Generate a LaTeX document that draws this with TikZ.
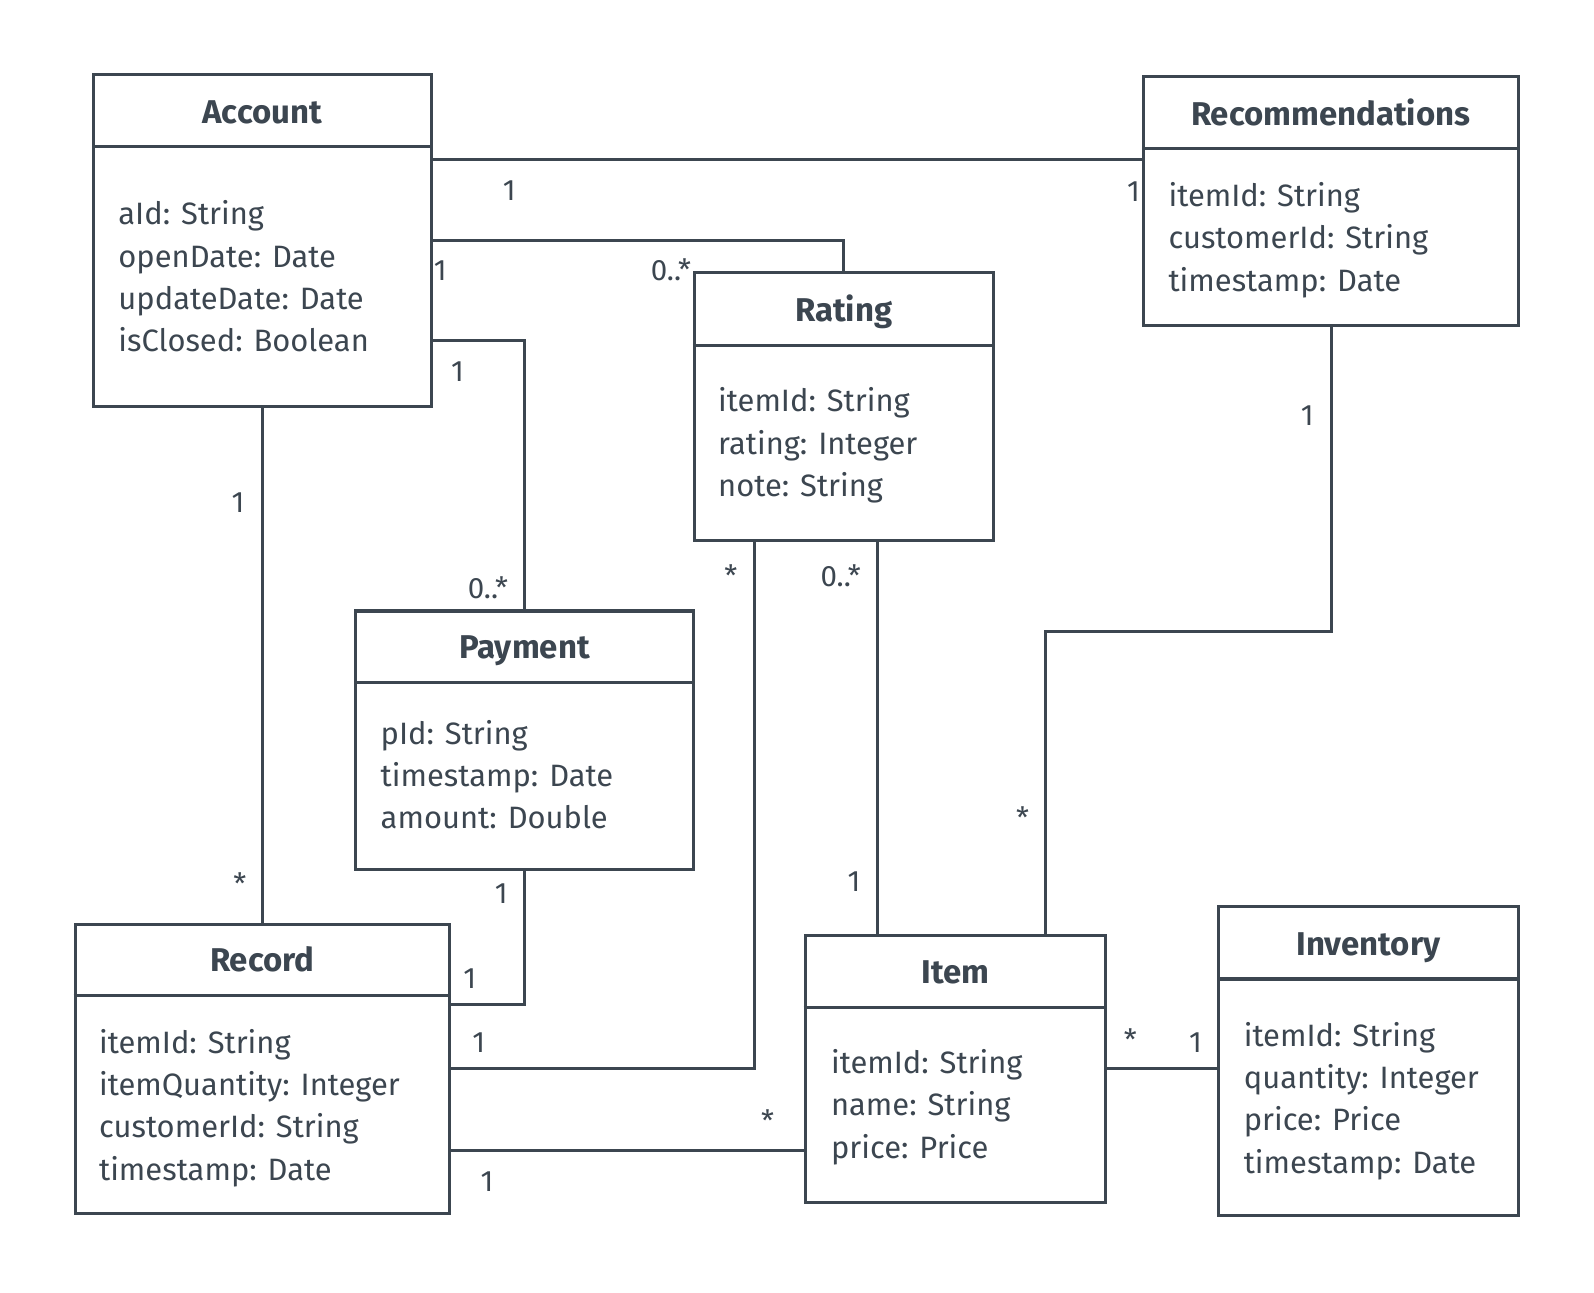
\documentclass[tikz,border=0pt]{standalone}
\usepackage{fontspec}
\setmainfont{Fira Sans}
\usetikzlibrary{fit}
\definecolor{umlink}{HTML}{3C4650}

\begin{document}
\begin{tikzpicture}[x=0.5pt,y=-0.5pt,line width=1.5pt,draw=umlink,
    every node/.style={text=umlink,inner sep=0pt,font=\fontsize{14.5}{17}\selectfont},
    classbox/.style={draw=umlink,line width=1.5pt,inner sep=0pt,fit={#1}},
    title/.style={anchor=base,font=\fontsize{16.2}{19}\selectfont\bfseries},
    attr/.style={anchor=base west,font=\fontsize{15.2}{18}\selectfont},
    mult/.style={anchor=base}]
\useasboundingbox (0,0) rectangle (1568,1271);

\node[classbox={(92,73) (424,400)}] (account) {};
\node[classbox={(1125,75) (1494,320)}] (recom) {};
\node[classbox={(683,268) (977,532)}] (rating) {};
\node[classbox={(350,601) (682,855)}] (payment) {};
\node[classbox={(74,909) (442,1194)}] (record) {};
\node[classbox={(792,920) (1087,1183)}] (item) {};
\node[classbox={(1199,892) (1494,1196)}] (inventory) {};

\draw (account.west |- 0,144) -- (account.east |- 0,144);
\draw (recom.west |- 0,146) -- (recom.east |- 0,146);
\draw (rating.west |- 0,340) -- (rating.east |- 0,340);
\draw (payment.west |- 0,671) -- (payment.east |- 0,671);
\draw (record.west |- 0,979) -- (record.east |- 0,979);
\draw (item.west |- 0,991) -- (item.east |- 0,991);
\draw (inventory.west |- 0,963) -- (inventory.east |- 0,963);

\node[title] (account-t) at (258,121) {Account};
\node[title] (recom-t) at (1309,123) {Recommendations};
\node[title] (rating-t) at (830,316) {Rating};
\node[title] (payment-t) at (516,648) {Payment};
\node[title] (record-t) at (258,956) {Record};
\node[title] (item-t) at (940,967) {Item};
\node[title] (inventory-t) at (1346,940) {Inventory};

\foreach \t [count=\i from 0] in {aId: String,openDate: Date,updateDate: Date,isClosed: Boolean}
  \node[attr] (account-\i) at (115,221+41.7*\i) {\t};
\foreach \t [count=\i from 0] in {itemId: String,customerId: String,timestamp: Date}
  \node[attr] (recom-\i) at (1148,203+41.7*\i) {\t};
\foreach \t [count=\i from 0] in {itemId: String,rating: Integer,note: String}
  \node[attr] (rating-\i) at (705,405+41.7*\i) {\t};
\foreach \t [count=\i from 0] in {pId: String,timestamp: Date,amount: Double}
  \node[attr] (payment-\i) at (373,732+41.7*\i) {\t};
\foreach \t [count=\i from 0] in {itemId: String,itemQuantity: Integer,customerId: String,timestamp: Date}
  \node[attr] (record-\i) at (96,1036+41.7*\i) {\t};
\foreach \t [count=\i from 0] in {itemId: String,name: String,price: Price}
  \node[attr] (item-\i) at (816,1056+41.7*\i) {\t};
\foreach \t [count=\i from 0] in {itemId: String,quantity: Integer,price: Price,timestamp: Date}
  \node[attr] (inventory-\i) at (1222,1029+41.7*\i) {\t};

\coordinate (ar) at (0,157);
\coordinate (rt) at (830,237);
\coordinate (pm) at (516,335);
\coordinate (pr) at (516,988);
\coordinate (rr) at (742,1051);
\coordinate (ri) at (863,0);
\coordinate (rb) at (1028,621);
\coordinate (rc) at (0,1132);
\coordinate (ii) at (0,1051);

\draw (account.east |- ar) -- (recom.west |- ar);
\draw (account.east |- rt) -| (rating.north);
\draw (account.east |- pm) -| (payment.north);
\draw (account.south) -- (record.north);
\draw (payment.south) |- (record.east |- pr);
\draw (rating.south -| rr) |- (record.east |- rr);
\draw (rating.south -| ri) -- (item.north -| ri);
\draw (recom.south) |- (rb) -- (item.north -| rb);
\draw (record.east |- rc) -- (item.west |- rc);
\draw (item.east |- ii) -- (inventory.west |- ii);

\node[mult] (m1) at (501,197) {1};
\node[mult] (m2) at (1115,198) {1};
\node[mult] (m3) at (433,276) {1};
\node[mult] (m4) at (660,276) {0..*};
\node[mult] (m5) at (450,375) {1};
\node[mult] (m6) at (480,589) {0..*};
\node[mult] (m7) at (234,504) {1};
\node[mult] (m8) at (236,880) {*};
\node[mult] (m9) at (493,889) {1};
\node[mult] (m10) at (462,972) {1};
\node[mult] (m11) at (719,577) {*};
\node[mult] (m12) at (471,1035) {1};
\node[mult] (m13) at (827,577) {0..*};
\node[mult] (m14) at (840,877) {1};
\node[mult] (m15) at (1286,419) {1};
\node[mult] (m16) at (1006,815) {*};
\node[mult] (m17) at (755,1113) {*};
\node[mult] (m18) at (479,1172) {1};
\node[mult] (m19) at (1112,1033) {*};
\node[mult] (m20) at (1176,1035) {1};
\end{tikzpicture}
\end{document}
